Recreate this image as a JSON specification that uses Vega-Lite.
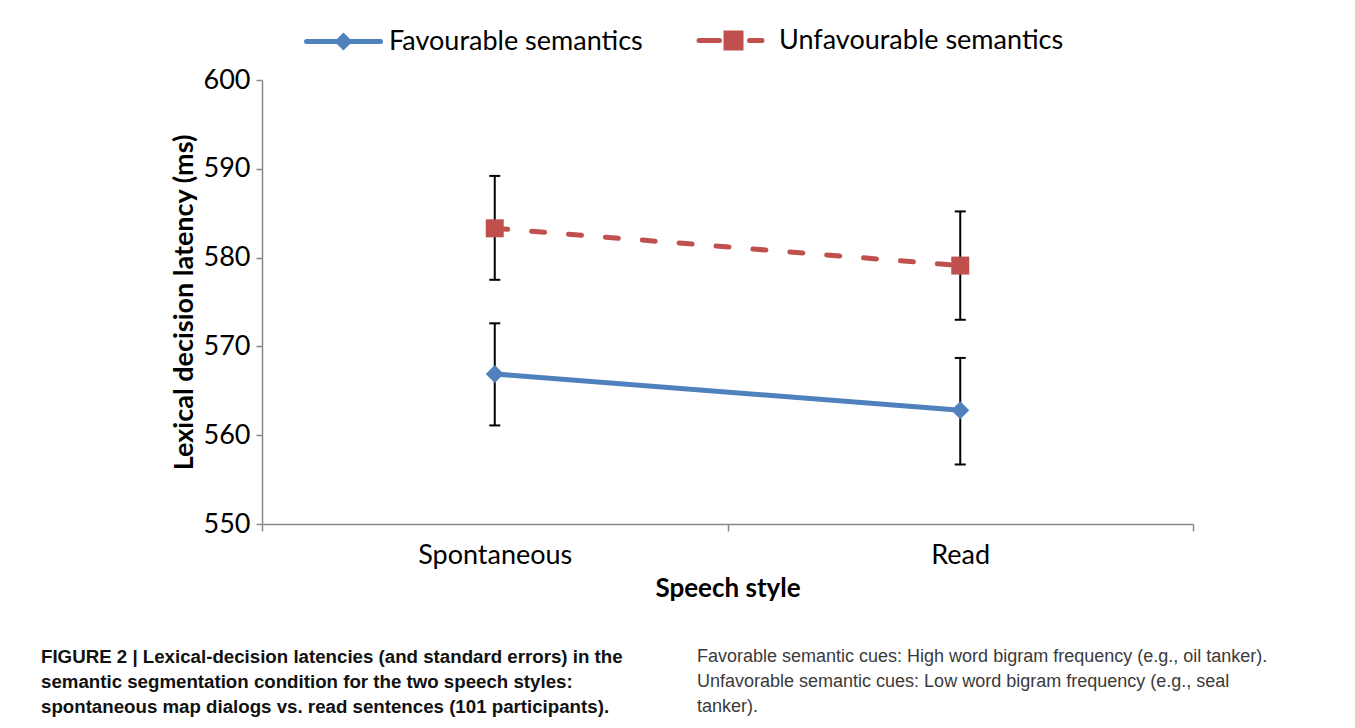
{
  "$schema": "https://vega.github.io/schema/vega-lite/v6.json",
  "padding": {"left": 41, "top": 27, "right": 0, "bottom": 0},
  "background": "white",
  "spacing": 47,
  "config": {"view": {"stroke": null}, "font": "Lato"},
  "datasets": {
    "points": [
      {"style": "Spontaneous", "condition": "Favourable semantics", "latency": 566.9, "lo": 561.1, "hi": 572.6},
      {"style": "Read", "condition": "Favourable semantics", "latency": 562.8, "lo": 556.7, "hi": 568.7},
      {"style": "Spontaneous", "condition": "Unfavourable semantics", "latency": 583.3, "lo": 577.5, "hi": 589.2},
      {"style": "Read", "condition": "Unfavourable semantics", "latency": 579.1, "lo": 573.0, "hi": 585.2}
    ],
    "caption": [
      {"col": "left", "line": 1, "text": "FIGURE 2 | Lexical-decision latencies (and standard errors) in the"},
      {"col": "left", "line": 2, "text": "semantic segmentation condition for the two speech styles:"},
      {"col": "left", "line": 3, "text": "spontaneous map dialogs vs. read sentences (101 participants)."},
      {"col": "right", "line": 1, "text": "Favorable semantic cues: High word bigram frequency (e.g., oil tanker)."},
      {"col": "right", "line": 2, "text": "Unfavorable semantic cues: Low word bigram frequency (e.g., seal"},
      {"col": "right", "line": 3, "text": "tanker)."}
    ]
  },
  "vconcat": [
    {
      "width": 931,
      "height": 444,
      "data": {"name": "points"},
      "encoding": {
        "x": {
          "field": "style", "type": "nominal", "sort": ["Spontaneous", "Read"],
          "scale": {"type": "band", "paddingInner": 0, "paddingOuter": 0},
          "axis": {
            "title": "Speech style", "labelAngle": 0, "tickBand": "extent",
            "domainColor": "#888888", "domainWidth": 1.5, "tickColor": "#888888", "tickWidth": 1.5, "tickSize": 7,
            "labelFont": "Lato", "labelFontSize": 27, "labelColor": "#000000", "labelPadding": 11,
            "titleFont": "Lato", "titleFontSize": 26, "titleFontWeight": "bold", "titleColor": "#000000", "titlePadding": 7,
            "grid": false
          }
        }
      },
      "layer": [
        {
          "mark": {"type": "rule", "color": "#000000", "strokeWidth": 2},
          "encoding": {
            "y": {"field": "lo", "type": "quantitative", "title": "Lexical decision latency (ms)", "scale": {"domain": [550, 600], "zero": false, "nice": false},
              "axis": {"values": [550, 560, 570, 580, 590, 600], "grid": false, "domainColor": "#888888", "domainWidth": 1.5, "tickColor": "#888888", "tickWidth": 1.5, "tickSize": 6,
                "labelFont": "Lato", "labelFontSize": 27, "labelColor": "#000000", "labelPadding": 6,
                "titleFont": "Lato", "titleFontSize": 27, "titleFontWeight": "bold", "titleColor": "#000000", "titlePadding": 5}},
            "y2": {"field": "hi"}
          }
        },
        {
          "mark": {"type": "tick", "color": "#000000", "thickness": 2, "size": 11, "opacity": 1},
          "encoding": {"y": {"field": "lo", "type": "quantitative", "title": "Lexical decision latency (ms)"}}
        },
        {
          "mark": {"type": "tick", "color": "#000000", "thickness": 2, "size": 11, "opacity": 1},
          "encoding": {"y": {"field": "hi", "type": "quantitative", "title": "Lexical decision latency (ms)"}}
        },
        {
          "transform": [{"filter": "datum.condition === 'Favourable semantics'"}],
          "mark": {"type": "line", "strokeWidth": 5, "strokeCap": "round"},
          "encoding": {
            "y": {"field": "latency", "type": "quantitative", "title": "Lexical decision latency (ms)"},
            "color": {
              "field": "condition", "type": "nominal",
              "scale": {"domain": ["Favourable semantics", "Unfavourable semantics"], "range": ["#4F81BD", "#C0504D"]},
              "legend": {
                "title": null, "orient": "none", "legendX": 68, "legendY": -53, "direction": "horizontal", "columns": 2,
                "columnPadding": 46, "padding": 0, "symbolSize": 400, "symbolStrokeWidth": 5, "labelOffset": 32,
                "labelFont": "Lato", "labelFontSize": 27, "labelColor": "#000000", "labelLimit": 600,
                "encode": {
                  "symbols": {
                    "update": {
                      "shape": {"signal": "datum.value === 'Favourable semantics' ? 'M-3.7,0L3.7,0M0,-0.55L0.55,0L0,0.55L-0.55,0Z' : 'M-3.45,0L-1.4,0M1.6,0L2.85,0M-0.75,-0.75L0.75,-0.75L0.75,0.75L-0.75,0.75Z'"},
                      "fill": {"signal": "datum.value === 'Favourable semantics' ? '#4F81BD' : '#C0504D'"},
                      "stroke": {"signal": "datum.value === 'Favourable semantics' ? '#4F81BD' : '#C0504D'"},
                      "strokeWidth": {"value": 5},
                      "strokeCap": {"value": "round"},
                      "opacity": {"value": 1},
                      "fillOpacity": {"value": 1},
                      "strokeOpacity": {"value": 1}
                    }
                  }
                }
              }
            }
          }
        },
        {
          "transform": [{"filter": "datum.condition === 'Unfavourable semantics'"}],
          "mark": {"type": "line", "strokeWidth": 5, "strokeCap": "round", "strokeDash": [13, 24]},
          "encoding": {
            "y": {"field": "latency", "type": "quantitative", "title": "Lexical decision latency (ms)"},
            "color": {"field": "condition", "type": "nominal"}
          }
        },
        {
          "transform": [{"filter": "datum.condition === 'Favourable semantics'"}],
          "mark": {"type": "point", "filled": true, "size": 324, "opacity": 1, "shape": "diamond"},
          "encoding": {
            "y": {"field": "latency", "type": "quantitative", "title": "Lexical decision latency (ms)"},
            "color": {"field": "condition", "type": "nominal"}
          }
        },
        {
          "transform": [{"filter": "datum.condition === 'Unfavourable semantics'"}],
          "mark": {"type": "point", "filled": true, "size": 324, "opacity": 1, "shape": "square"},
          "encoding": {
            "y": {"field": "latency", "type": "quantitative", "title": "Lexical decision latency (ms)"},
            "color": {"field": "condition", "type": "nominal"}
          }
        }
      ]
    },
    {
      "width": 1000,
      "height": 50,
      "data": {"name": "caption"},
      "encoding": {
        "x": {"field": "col", "type": "nominal", "scale": {"type": "point", "padding": 0, "domain": ["left", "right"], "range": [-221, 435]}, "axis": null},
        "y": {"field": "line", "type": "ordinal", "scale": {"type": "point", "padding": 0}, "axis": null},
        "text": {"field": "text"}
      },
      "layer": [
        {
          "transform": [{"filter": "datum.col === 'left'"}],
          "mark": {"type": "text", "align": "left", "baseline": "middle", "font": "Liberation Sans", "fontWeight": "bold", "fontSize": 18.7, "color": "#111111"}
        },
        {
          "transform": [{"filter": "datum.col === 'right'"}],
          "mark": {"type": "text", "align": "left", "baseline": "middle", "font": "Liberation Sans", "fontSize": 18, "color": "#3a3a3a"}
        }
      ]
    }
  ]
}
